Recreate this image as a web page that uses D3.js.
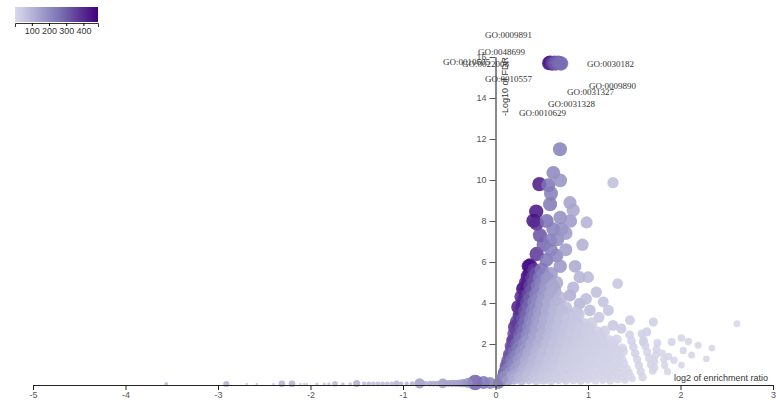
<!DOCTYPE html>
<html>
<head>
<meta charset="utf-8">
<script src="https://cdn.jsdelivr.net/npm/d3@7"></script>
<style>
  html, body { margin: 0; padding: 0; background: #fff; }
  svg { display: block; }
</style>
</head>
<body>
<svg id="chart" width="776" height="403"></svg>
<script>
// ---------------- DATA ----------------
// each point: [log2 enrichment ratio, -log10 FDR, gene set size (colour), overlap (radius)]
const topPoints = [
  [0.58,15.7,430,64],[0.59,15.72,470,64],[0.61,15.68,400,64],[0.62,15.7,360,64],[0.64,15.72,330,64],
  [0.65,15.68,310,64],[0.67,15.7,300,64],[0.68,15.72,290,64],[0.70,15.7,280,64],[0.71,15.68,270,64]
];
const upperPoints = [
  [0.697,11.5,230,62],[0.625,10.35,220,60],[0.70,9.98,190,58],[0.474,9.8,440,64],[0.571,9.74,260,62],
  [0.60,9.34,240,62],[0.59,8.82,250,62],[0.805,8.9,150,54],[0.84,8.53,140,54],[0.44,8.46,450,64],
  [0.41,8.01,450,64],[0.445,7.88,400,64],[0.553,8.0,270,62],[0.70,8.17,200,58],[0.81,8.0,170,56],
  [0.985,7.93,110,46],[0.625,7.6,230,60],[0.715,7.6,200,58],[0.59,7.04,240,60],[0.94,6.84,120,48],
  [0.52,6.84,290,62],[0.445,6.39,380,64],[0.66,6.31,220,58],[1.27,9.87,80,40],[0.86,5.79,130,50],
  [0.70,5.79,180,56],[0.36,5.79,460,64],[0.55,6.1,260,60],[0.60,6.6,230,58],[0.48,7.3,330,62],
  [0.67,7.1,210,58],[0.76,7.4,170,56],[0.76,6.6,160,54]
];
const envelopePoints = [
  [0.373,5.83,480,64],[0.30,4.69,485,64],[0.246,3.8,430,62],[0.21,2.83,400,60],[0.19,2.18,380,58],
  [0.35,5.3,440,64],[0.33,5.0,420,62],[0.28,4.3,400,62],[0.26,3.4,380,60],[0.23,3.1,360,58],
  [0.20,2.5,340,56],[0.17,1.9,330,54],[0.15,1.5,320,52],[0.13,1.2,300,50],[0.11,0.9,290,48],
  [0.09,0.6,280,46],[0.07,0.35,270,44],[0.05,0.15,260,42],[0.03,0.08,240,40]
];
const massPoints = [
  [0.06,0.25,240,40],[0.13,0.22,168,38],[0.20,0.28,120,36],[0.28,0.24,91,34],[0.36,0.27,72,32],[0.44,0.23,58,30],
  [0.52,0.26,48,30],[0.60,0.22,41,28],[0.68,0.27,36,28],[0.76,0.24,31,26],[0.84,0.26,26,26],[0.92,0.22,24,24],
  [1.00,0.27,22,24],[1.08,0.23,20,22],[1.16,0.26,18,22],[1.24,0.22,16,20],[1.32,0.27,14,20],[1.40,0.24,12,18],[1.48,0.30,11,16],
  [0.09,0.60,270,44],[0.16,0.62,189,42],[0.24,0.58,135,40],[0.32,0.63,103,38],[0.40,0.60,81,36],[0.48,0.57,65,34],
  [0.56,0.62,54,32],[0.64,0.59,46,31],[0.72,0.63,40,30],[0.80,0.58,35,29],[0.88,0.61,30,28],[0.96,0.64,27,27],
  [1.04,0.58,24,26],[1.12,0.62,22,25],[1.20,0.59,20,24],[1.28,0.63,18,23],[1.36,0.58,16,22],[1.44,0.62,15,20],
  [0.12,1.00,300,48],[0.19,1.03,210,46],[0.27,0.98,150,44],[0.35,1.02,114,42],[0.43,0.99,90,40],[0.51,1.03,72,38],
  [0.59,0.97,60,36],[0.67,1.01,51,34],[0.75,1.04,45,33],[0.83,0.98,39,32],[0.91,1.02,33,31],[0.99,0.99,30,30],
  [1.07,1.03,27,29],[1.15,0.98,24,28],[1.23,1.02,22,27],[1.31,0.99,20,26],[1.39,1.03,18,24],
  [0.15,1.40,320,50],[0.22,1.43,224,48],[0.30,1.38,160,46],[0.38,1.42,122,44],[0.46,1.39,96,42],[0.54,1.43,77,40],
  [0.62,1.37,64,38],[0.70,1.41,54,36],[0.78,1.44,48,35],[0.86,1.38,42,34],[0.94,1.42,35,33],[1.02,1.39,32,32],
  [1.10,1.43,29,31],[1.18,1.38,26,30],[1.26,1.42,23,29],[1.34,1.40,21,27],
  [0.18,1.80,340,54],[0.25,1.83,238,52],[0.33,1.78,170,50],[0.41,1.82,129,48],[0.49,1.79,102,46],[0.57,1.83,82,44],
  [0.65,1.77,68,42],[0.73,1.81,58,40],[0.81,1.84,51,38],[0.89,1.78,44,37],[0.97,1.82,37,36],[1.05,1.79,34,35],
  [1.13,1.83,31,34],[1.21,1.78,28,33],[1.29,1.82,25,31],[1.37,1.79,22,29],
  [0.20,2.20,360,56],[0.27,2.23,252,54],[0.35,2.18,180,52],[0.43,2.22,137,50],[0.51,2.19,108,48],[0.59,2.23,86,46],
  [0.67,2.17,72,44],[0.75,2.21,61,42],[0.83,2.24,54,40],[0.91,2.18,47,39],[0.99,2.22,40,38],[1.07,2.19,36,37],
  [1.15,2.23,32,36],[1.23,2.18,29,34],[1.31,2.22,26,32],
  [0.23,2.60,380,58],[0.30,2.63,266,56],[0.38,2.58,190,54],[0.46,2.62,144,52],[0.54,2.59,114,50],[0.62,2.63,91,48],
  [0.70,2.57,76,46],[0.78,2.61,65,44],[0.86,2.64,57,42],[0.94,2.58,49,41],[1.02,2.62,42,40],[1.10,2.59,38,39],
  [1.18,2.63,34,38],
  [0.25,3.00,390,60],[0.32,3.03,273,58],[0.40,2.98,195,56],[0.48,3.02,148,54],[0.56,2.99,117,52],[0.64,3.03,94,50],
  [0.72,2.97,78,48],[0.80,3.01,66,46],[0.88,3.04,58,44],[0.96,2.98,51,43],[1.04,3.02,43,42],
  [0.27,3.40,400,62],[0.34,3.43,280,60],[0.42,3.38,200,58],[0.50,3.42,152,56],[0.58,3.39,120,54],[0.66,3.43,96,52],
  [0.74,3.37,80,50],[0.82,3.41,68,48],[0.90,3.44,60,46],
  [0.29,3.80,410,64],[0.36,3.83,287,62],[0.44,3.78,205,60],[0.52,3.82,156,58],[0.60,3.79,123,56],[0.68,3.83,98,54],
  [0.76,3.77,82,52],
  [0.31,4.20,420,64],[0.38,4.23,294,64],[0.46,4.18,210,62],[0.54,4.22,160,60],[0.62,4.19,126,58],[0.70,4.23,101,56],
  [0.33,4.60,440,64],[0.40,4.63,308,64],[0.48,4.58,220,62],[0.56,4.62,167,60],[0.64,4.59,132,58],
  [0.35,5.00,450,64],[0.42,5.03,315,64],[0.50,4.98,225,62],[0.58,5.02,171,60],[0.66,4.99,135,58],
  [0.37,5.40,460,64],[0.44,5.43,322,64],[0.52,5.38,230,62],[0.60,5.42,175,60]
];
const massPointsB = [
  [0.10,0.42,200,42],[0.18,0.44,140,40],[0.26,0.41,100,38],[0.34,0.45,78,36],[0.42,0.42,62,34],[0.50,0.44,50,32],
  [0.58,0.41,42,31],[0.66,0.45,36,30],[0.74,0.42,31,29],[0.82,0.44,27,28],[0.90,0.41,24,27],[0.98,0.45,21,26],
  [1.06,0.42,19,25],[1.14,0.44,17,24],[1.22,0.41,15,23],[1.30,0.45,14,22],[1.38,0.42,12,20],[1.46,0.44,11,18],
  [0.14,0.80,230,46],[0.22,0.82,160,44],[0.30,0.79,115,42],[0.38,0.83,88,40],[0.46,0.80,70,38],[0.54,0.82,56,36],
  [0.62,0.79,47,34],[0.70,0.83,40,33],[0.78,0.80,35,32],[0.86,0.82,30,31],[0.94,0.79,27,30],[1.02,0.83,24,29],
  [1.10,0.80,21,28],[1.18,0.82,19,27],[1.26,0.79,17,26],[1.34,0.83,16,24],[1.42,0.80,14,22],
  [0.17,1.20,250,50],[0.25,1.22,175,48],[0.33,1.19,125,46],[0.41,1.23,95,44],[0.49,1.20,75,42],[0.57,1.22,60,40],
  [0.65,1.19,50,38],[0.73,1.23,43,36],[0.81,1.20,37,35],[0.89,1.22,32,34],[0.97,1.19,28,33],[1.05,1.23,25,32],
  [1.13,1.20,23,31],[1.21,1.22,21,30],[1.29,1.19,19,28],[1.37,1.23,17,26],
  [0.20,1.60,265,52],[0.28,1.62,185,50],[0.36,1.59,132,48],[0.44,1.63,100,46],[0.52,1.60,80,44],[0.60,1.62,64,42],
  [0.68,1.59,53,40],[0.76,1.63,45,38],[0.84,1.60,39,37],[0.92,1.62,34,36],[1.00,1.59,30,35],[1.08,1.63,27,34],
  [1.16,1.60,24,33],[1.24,1.62,22,32],[1.32,1.59,20,30],[1.38,1.63,18,28],
  [0.23,2.00,280,54],[0.31,2.02,196,52],[0.39,1.99,140,50],[0.47,2.03,106,48],[0.55,2.00,84,46],[0.63,2.02,67,44],
  [0.71,1.99,56,42],[0.79,2.03,48,40],[0.87,2.00,42,39],[0.95,2.02,36,38],[1.03,1.99,32,37],[1.11,2.03,29,36],
  [1.19,2.00,26,35],[1.27,2.02,23,33],
  [0.26,2.40,295,56],[0.34,2.42,206,54],[0.42,2.39,148,52],[0.50,2.43,112,50],[0.58,2.40,88,48],[0.66,2.42,71,46],
  [0.74,2.39,59,44],[0.82,2.43,50,42],[0.90,2.40,44,41],[0.98,2.42,38,40],[1.06,2.39,34,39],[1.14,2.43,30,38],
  [0.28,2.80,305,58],[0.36,2.82,214,56],[0.44,2.79,153,54],[0.52,2.83,116,52],[0.60,2.80,92,50],[0.68,2.82,73,48],
  [0.76,2.79,61,46],[0.84,2.83,52,44],[0.92,2.80,46,43],[1.00,2.82,40,42],
  [0.30,3.20,315,60],[0.38,3.22,220,58],[0.46,3.19,158,56],[0.54,3.23,120,54],[0.62,3.20,95,52],[0.70,3.22,76,50],
  [0.78,3.19,63,48],[0.86,3.23,54,46],
  [0.32,3.60,320,62],[0.40,3.62,224,60],[0.48,3.59,160,58],[0.56,3.63,122,56],[0.64,3.60,96,54],[0.72,3.62,77,52],
  [0.34,4.00,330,62],[0.42,4.02,231,62],[0.50,3.99,165,60],[0.58,4.03,125,58],[0.66,4.00,99,56],
  [0.36,4.40,340,64],[0.44,4.42,238,62],[0.52,4.39,170,60],[0.60,4.43,129,58],
  [0.38,4.80,350,64],[0.46,4.82,245,62],[0.54,4.79,175,60],[0.62,4.83,133,58],
  [0.40,5.20,360,64],[0.48,5.22,252,62],[0.56,5.19,180,60],
  [0.42,5.60,370,64],[0.50,5.62,259,62]
];
const rightPoints = [
  [0.91,5.26,110,46],[1.00,5.26,95,44],[1.32,4.95,60,36],[1.09,4.53,80,40],[0.805,4.37,120,48],
  [0.91,3.97,100,44],[1.165,4.05,70,38],[1.02,3.64,85,42],[1.22,3.64,65,38],[1.454,3.16,45,30],
  [1.706,3.07,35,26],[1.27,2.91,60,36],[1.635,2.59,35,26],[1.36,2.75,50,32],[2.61,2.99,12,15],
  [1.905,2.1,22,20],[2.01,2.29,18,18],[2.085,2.12,16,17],[2.19,1.94,14,16],[2.34,1.8,12,14],
  [2.03,1.68,16,17],[1.87,1.39,20,18],[2.12,1.46,15,16],[1.93,1.21,18,17],[2.28,1.28,12,14],
  [2.01,0.97,15,15],[1.86,0.65,18,16],[1.60,2.10,35,26],
  [1.45,2.45,30,24],[1.47,2.15,29,24],[1.49,1.85,28,23],[1.51,1.55,27,23],[1.53,1.25,26,22],
  [1.55,0.95,25,22],[1.57,0.65,24,21],[1.59,0.38,23,21],
  [1.58,2.50,27,22],[1.60,2.20,26,22],[1.62,1.90,25,21],[1.64,1.60,24,21],[1.66,1.30,23,20],
  [1.68,1.00,22,20],[1.70,0.70,21,19],
  [1.75,2.05,22,19],[1.74,1.75,22,19],[1.73,1.45,21,18],[1.72,1.15,21,18],[1.72,0.85,20,18],
  [1.80,1.55,20,18],[1.82,1.25,19,17],[1.83,0.95,18,17],
  [0.84,4.75,105,46],[0.98,4.2,85,42],[1.12,3.3,60,38],[0.88,3.6,75,42]
];
const leftTail = [
  [-3.56,0.05,90,5],[-2.91,0.05,110,12],[-2.69,0.05,60,2],[-2.58,0.05,60,2],[-2.40,0.05,60,2],
  [-2.31,0.06,110,14],[-2.20,0.06,110,14],[-2.11,0.05,60,2],[-2.07,0.05,60,2],[-2.04,0.05,60,2],
  [-1.93,0.05,70,3],[-1.85,0.05,70,3],[-1.80,0.05,70,4],[-1.735,0.06,100,10],[-1.65,0.05,80,4],
  [-1.57,0.05,80,4],[-1.50,0.07,120,16],[-1.42,0.06,90,6],[-1.37,0.06,90,7],[-1.32,0.06,90,7],
  [-1.27,0.06,90,7],[-1.22,0.06,90,7],[-1.17,0.06,90,7],[-1.12,0.06,90,7],[-1.07,0.07,110,11],
  [-1.02,0.06,100,6],[-0.96,0.06,100,6],[-0.90,0.06,110,8],[-0.82,0.08,160,34],[-0.76,0.07,130,9],
  [-0.71,0.07,130,10],[-0.67,0.07,130,10],[-0.63,0.07,130,10],[-0.57,0.08,170,30],[-0.51,0.08,150,14],
  [-0.47,0.08,150,16],[-0.43,0.08,150,16],[-0.39,0.08,160,18],[-0.35,0.09,180,22],[-0.30,0.10,200,30],
  [-0.22,0.12,300,74],[-0.13,0.12,260,52],[-0.06,0.10,230,44]
];
// labels of top terms, position of each label in data units
const labelTerms = ["GO:0009891","GO:0048699","GO:0010605","GO:0022008","GO:0010557",
                    "GO:0030182","GO:0009890","GO:0031327","GO:0031328","GO:0010629"];
const labelX = [-0.114,-0.189,-0.568,-0.362,-0.114,0.989,1.011,0.773,0.568,0.254];
const labelY = [16.93,16.12,15.63,15.49,14.76,15.49,14.42,14.17,13.54,13.11];

const xTicks = [-5,-4,-3,-2,-1,0,1,2,3];
const yTicks = [2,4,6,8,10,12,14,16];
const legendTicks = [100,200,300,400];

// ---------------- CHART ----------------
const svg = d3.select("#chart");
const x = d3.scaleLinear().domain([-5,3]).range([33,773]);
const y = d3.scaleLinear().domain([0,16]).range([385,57]);
const color = d3.scaleSequential(t => d3.interpolatePurples(0.25 + 0.75*t)).domain([2,485]);
const r = d3.scaleSqrt().domain([0,80]).range([0,8]).clamp(true);

const all = [].concat(leftTail, massPoints, massPointsB, rightPoints, envelopePoints, upperPoints, topPoints)
  .sort((a,b) => b[2]-a[2]);

svg.append("g")
  .selectAll("circle")
  .data(all)
  .join("circle")
  .attr("cx", d => x(d[0]))
  .attr("cy", d => y(d[1]))
  .attr("r", d => r(d[3]))
  .attr("fill", d => color(d[2]))
  .attr("fill-opacity", 0.85);

// x axis
const xAxis = svg.append("g")
  .attr("transform", `translate(0,${y(0)})`)
  .call(d3.axisBottom(x).tickValues(xTicks).tickFormat(d => String(d)).tickSize(5).tickPadding(2));
xAxis.select(".domain").attr("stroke","#222");
xAxis.selectAll(".tick line").attr("stroke","#222");
xAxis.selectAll("text").attr("fill","#555").style("font-size","9px").style("font-family","Liberation Sans, Arial, sans-serif");

// y axis
const yAxis = svg.append("g")
  .attr("transform", `translate(${x(0)},0)`)
  .call(d3.axisLeft(y).tickValues(yTicks).tickSize(6).tickPadding(3).tickSizeOuter(0));
yAxis.select(".domain").attr("stroke","#888").attr("stroke-width",2);
yAxis.selectAll(".tick line").attr("stroke","#555");
yAxis.selectAll("text").attr("fill","#555").style("font-size","9px").style("font-family","Liberation Sans, Arial, sans-serif");

// axis titles
svg.append("text")
  .attr("x", 768).attr("y", 381)
  .attr("text-anchor","end")
  .style("font-size","9px").style("font-family","Liberation Sans, Arial, sans-serif")
  .attr("fill","#333")
  .text("log2 of enrichment ratio");
svg.append("text")
  .attr("transform", `translate(${x(0)+12},${y(16)}) rotate(-90)`)
  .attr("text-anchor","end")
  .style("font-size","9px").style("font-family","Liberation Sans, Arial, sans-serif")
  .attr("fill","#333")
  .text("-Log10 of FDR");

// GO labels
svg.append("g")
  .selectAll("text")
  .data(labelTerms)
  .join("text")
  .attr("x", (d,i) => x(labelX[i]))
  .attr("y", (d,i) => y(labelY[i]))
  .style("font-size","9px").style("font-family","Liberation Serif, Times New Roman, serif")
  .attr("fill","#333")
  .text(d => d);

// legend
const defs = svg.append("defs");
const grad = defs.append("linearGradient").attr("id","lg").attr("x1","0%").attr("x2","100%");
d3.range(0, 1.0001, 0.1).forEach(t => {
  grad.append("stop").attr("offset", (t*100)+"%").attr("stop-color", color(2 + t*483));
});
const lx = d3.scaleLinear().domain([2,485]).range([15,98]);
svg.append("rect").attr("x",15).attr("y",7).attr("width",83).attr("height",15).attr("fill","url(#lg)");
const lAxis = svg.append("g").attr("transform","translate(0,23)")
  .call(d3.axisBottom(lx).tickValues(legendTicks).tickSize(3).tickSizeOuter(4).tickPadding(2));
lAxis.select(".domain").attr("stroke","#333");
lAxis.selectAll("text").attr("fill","#333").style("font-size","9px").style("font-family","Liberation Sans, Arial, sans-serif");
</script>
</body>
</html>
